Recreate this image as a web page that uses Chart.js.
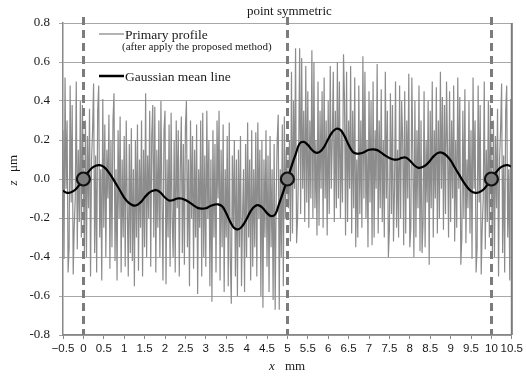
<!DOCTYPE html>
<html>
<head>
<meta charset="utf-8">
<script src="https://cdn.jsdelivr.net/npm/chart.js@4/dist/chart.umd.min.js"></script>
<style>
  html, body { margin: 0; padding: 0; background: #fff; }
  #wrap { width: 526px; height: 376px; }
</style>
</head>
<body>
<div id="wrap"><canvas id="c" width="526" height="376"></canvas></div>
<script>
// Sampling of the primary profile (mm)
const X_START = -0.5;
const X_STEP = 0.025;

// Primary profile z (µm), x = -0.5 … -0.025
const profileLead = [0.25, -0.41, 0.52, -0.05, 0.30, -0.48, -0.35, 0.48, -0.12, 0.38,
  -0.49, -0.25, -0.10, 0.50, -0.36, 0.15, -0.22, 0.40, -0.30, 0.38];

// x = 0 … 5
const profileFirstHalf = [
  0.00, -0.38, 0.30, -0.40, 0.22, -0.15, 0.36, -0.50, 0.10, 0.25,
  0.49, -0.38, 0.12, -0.48, 0.35, 0.48, -0.30, 0.05, -0.52, 0.41,
  -0.25, 0.28, -0.40, 0.15, -0.10, 0.33, -0.46, 0.20, -0.35, 0.30,
  0.44, -0.42, 0.05, -0.52, 0.25, -0.20, 0.32, -0.48, 0.10, -0.30,
  0.22, -0.45, 0.30, -0.15, -0.50, 0.18, -0.38, 0.26, -0.42, 0.05,
  -0.55, 0.20, -0.30, 0.28, -0.47, 0.10, -0.25, 0.30, -0.50, 0.15,
  -0.35, 0.44, -0.40, 0.12, -0.20, 0.35, -0.45, 0.22, 0.38, -0.30,
  0.37, -0.48, 0.15, -0.25, 0.30, -0.40, 0.40, -0.10, -0.52, 0.25,
  0.35, -0.54, 0.10, -0.30, 0.28, -0.45, 0.34, -0.20, -0.40, 0.20,
  -0.48, 0.30, -0.15, 0.25, -0.50, 0.05, 0.32, -0.38, 0.18, -0.44,
  0.26, 0.40, -0.35, 0.10, -0.55, 0.30, -0.20, 0.22, -0.46, 0.15,
  -0.30, 0.28, -0.59, 0.05, -0.25, 0.30, -0.50, 0.34, -0.40, 0.12,
  -0.45, 0.35, -0.20, 0.20, -0.55, 0.10, -0.63, 0.25, -0.30, 0.18,
  -0.48, 0.30, -0.10, 0.35, -0.52, 0.15, -0.35, 0.28, -0.58, 0.05,
  -0.30, 0.22, -0.55, 0.29, -0.40, -0.64, 0.12, -0.25, 0.20, -0.50,
  0.10, -0.60, 0.15, -0.35, 0.22, -0.55, -0.20, 0.05, -0.58, 0.18,
  -0.40, 0.29, -0.30, 0.10, -0.52, 0.25, -0.45, 0.05, -0.35, 0.24,
  -0.50, 0.29, -0.20, 0.15, -0.60, 0.20, -0.66, 0.10, -0.30, 0.25,
  -0.45, 0.12, -0.58, 0.22, -0.35, 0.05, -0.62, 0.18, -0.67, -0.10,
  0.20, 0.33, -0.67, 0.05, -0.40, 0.28, -0.55, 0.32, -0.20, 0.15,
  0.00];

// x = 5.025 … 10
const profileSecondHalf = [
  -0.15, 0.20, -0.32, 0.55, -0.28, 0.40, -0.05, 0.67, -0.33, -0.20,
  0.10, 0.67, -0.18, 0.62, -0.05, 0.35, -0.22, 0.58, -0.12, 0.45,
  -0.25, 0.30, -0.10, 0.66, -0.20, 0.60, -0.15, 0.20, -0.29, 0.50,
  -0.24, 0.35, -0.05, 0.45, -0.25, 0.52, -0.10, 0.30, -0.29, 0.40,
  -0.18, 0.58, -0.05, 0.20, 0.55, -0.22, 0.35, -0.15, 0.60, -0.10,
  0.50, -0.20, 0.25, -0.12, 0.64, 0.40, -0.29, 0.55, -0.22, 0.30,
  -0.05, 0.58, -0.28, 0.35, -0.15, 0.52, -0.35, 0.10, -0.30, 0.48,
  -0.18, 0.30, -0.25, 0.63, -0.10, 0.55, -0.20, 0.20, -0.35, 0.45,
  -0.12, 0.40, -0.34, 0.50, -0.30, 0.25, -0.05, 0.59, -0.28, 0.30,
  -0.15, 0.46, -0.22, 0.20, -0.30, 0.55, -0.10, 0.35, -0.40, -0.26,
  0.44, -0.18, 0.38, -0.32, -0.05, 0.50, -0.25, 0.15, -0.30, 0.48,
  -0.20, 0.40, 0.20, -0.34, 0.45, -0.28, 0.30, -0.10, 0.54, -0.35,
  -0.25, 0.52, 0.10, -0.40, 0.40, -0.30, 0.25, -0.15, 0.48, -0.37,
  0.30, -0.38, -0.22, 0.45, -0.35, 0.20, -0.12, 0.40, -0.44, 0.35,
  -0.15, 0.50, -0.30, 0.25, -0.10, 0.47, -0.28, 0.30, -0.20, 0.55,
  -0.05, 0.42, -0.26, 0.38, -0.18, 0.50, 0.15, -0.30, 0.45, -0.22,
  0.30, -0.10, 0.48, -0.32, 0.20, -0.25, 0.52, -0.05, 0.42, -0.44,
  -0.30, 0.35, -0.20, 0.46, -0.33, 0.10, -0.15, 0.40, -0.28, 0.25,
  -0.41, 0.52, -0.05, 0.30, -0.48, -0.35, 0.48, -0.12, 0.38, -0.49,
  -0.25, -0.10, 0.50, -0.36, 0.15, -0.22, 0.40, -0.30, 0.38, 0.00];

// x = 10.025 … 10.5
const profileTail = [-0.38, 0.30, -0.40, 0.22, -0.15, 0.36, -0.50, 0.10, 0.25, 0.49,
  -0.38, 0.12, -0.48, 0.35, 0.48, -0.30, 0.05, -0.52, 0.41, -0.25];

// Gaussian mean line z (µm), x = -0.5 … 10.5 every 0.1 mm
const MEAN_STEP = 0.1;
const meanLine = [
  -0.060, -0.071, -0.068, -0.055, -0.030,
  0.000, 0.030, 0.055, 0.068, 0.071, 0.062, 0.040, 0.010, -0.025, -0.060,
  -0.095, -0.120, -0.134, -0.135, -0.120, -0.095, -0.072, -0.060, -0.058, -0.072,
  -0.095, -0.110, -0.108, -0.100, -0.100, -0.108, -0.120, -0.135, -0.148, -0.152,
  -0.150, -0.140, -0.132, -0.130, -0.140, -0.175, -0.220, -0.252, -0.258, -0.240,
  -0.205, -0.165, -0.140, -0.135, -0.150, -0.175, -0.190, -0.182, -0.125, -0.065,
  0.000, 0.065, 0.125, 0.182, 0.190, 0.175, 0.150, 0.135, 0.140, 0.165,
  0.205, 0.240, 0.258, 0.252, 0.220, 0.175, 0.140, 0.130, 0.132, 0.140,
  0.150, 0.152, 0.148, 0.135, 0.120, 0.108, 0.100, 0.100, 0.108, 0.110,
  0.095, 0.072, 0.058, 0.060, 0.072, 0.095, 0.120, 0.135, 0.134, 0.120,
  0.095, 0.060, 0.025, -0.010, -0.040, -0.062, -0.071, -0.068, -0.055, -0.030,
  0.000, 0.030, 0.055, 0.068, 0.071, 0.062];

// Symmetry points and the dashed markers through them
const symmetryX = [0, 5, 10];
const symmetryZ = [0, 0, 0];

// Axes
const xRange = [-0.5, 10.5];
const yRange = [-0.8, 0.8];
const titleText = 'point symmetric';
const legendLabels = ['Primary profile', '(after apply the proposed method)', 'Gaussian mean line'];

const profileZ = [].concat(profileLead, profileFirstHalf, profileSecondHalf, profileTail);
const profilePoints = profileZ.map((z, i) => ({ x: +(X_START + i * X_STEP).toFixed(3), y: z }));
const meanPoints = meanLine.map((z, i) => ({ x: +(X_START + i * MEAN_STEP).toFixed(2), y: z }));
const symPoints = symmetryX.map((x, i) => ({ x: x, y: symmetryZ[i] }));

const SERIF = '"Liberation Serif", "Times New Roman", serif';

const decorations = {
  id: 'decorations',
  afterDatasetDraw(chart, args) {
    if (args.index !== 0) return;
    const { ctx, chartArea } = chart;
    const xs = chart.scales.x;
    ctx.save();
    ctx.strokeStyle = '#7c7c7c';
    ctx.lineWidth = 3;
    ctx.setLineDash([8, 5]);
    symmetryX.forEach(v => {
      const px = Math.round(xs.getPixelForValue(v)) + 0.5;
      ctx.beginPath();
      ctx.moveTo(px, chartArea.top - 6);
      ctx.lineTo(px, chartArea.bottom);
      ctx.stroke();
    });
    ctx.restore();
  },
  afterDraw(chart) {
    const { ctx, chartArea } = chart;
    const xs = chart.scales.x;
    ctx.save();
    // right frame line
    ctx.strokeStyle = '#7a7a7a';
    ctx.lineWidth = 2;
    const rx = xs.getPixelForValue(xRange[1]);
    ctx.beginPath();
    ctx.moveTo(rx, chartArea.top);
    ctx.lineTo(rx, chartArea.bottom);
    ctx.stroke();

    ctx.fillStyle = '#1a1a1a';
    ctx.textBaseline = 'alphabetic';

    // annotation above the centre line
    ctx.font = '13px ' + SERIF;
    ctx.textAlign = 'center';
    ctx.fillText(titleText, xs.getPixelForValue(5) + 2, 15);

    // legend
    ctx.textAlign = 'left';
    ctx.strokeStyle = '#8a8a8a';
    ctx.lineWidth = 1.3;
    ctx.beginPath(); ctx.moveTo(99, 34); ctx.lineTo(124, 34); ctx.stroke();
    ctx.font = '13.5px ' + SERIF;
    ctx.fillText(legendLabels[0], 125, 38.5);
    ctx.font = '11px ' + SERIF;
    ctx.fillText(legendLabels[1], 122, 50);
    ctx.strokeStyle = '#000';
    ctx.lineWidth = 2.5;
    ctx.beginPath(); ctx.moveTo(99, 76); ctx.lineTo(124, 76); ctx.stroke();
    ctx.font = '13.5px ' + SERIF;
    ctx.fillText(legendLabels[2], 125, 80.5);

    // x axis title
    ctx.font = 'italic 13px ' + SERIF;
    ctx.textAlign = 'center';
    ctx.fillText('x', 272, 370);
    ctx.font = '13px ' + SERIF;
    ctx.textAlign = 'left';
    ctx.fillText('mm', 285, 370);

    // y axis title (rotated)
    ctx.translate(17, 175);
    ctx.rotate(-Math.PI / 2);
    ctx.font = 'italic 13px ' + SERIF;
    ctx.textAlign = 'center';
    ctx.fillText('z', -8, 0);
    ctx.font = '13px ' + SERIF;
    ctx.textAlign = 'left';
    ctx.fillText('\u03bcm', 3, 0);
    ctx.restore();
  }
};

new Chart(document.getElementById('c'), {
  type: 'scatter',
  data: {
    datasets: [
      {
        data: profilePoints,
        showLine: true,
        borderColor: '#8c8c8c',
        borderWidth: 1.2,
        pointRadius: 0,
        tension: 0,
        order: 3
      },
      {
        data: meanPoints,
        showLine: true,
        borderColor: '#000',
        borderWidth: 2.2,
        pointRadius: 0,
        tension: 0.4,
        order: 2
      },
      {
        data: symPoints,
        showLine: false,
        backgroundColor: '#7d7d7d',
        borderColor: '#111',
        pointRadius: 6.5,
        pointBackgroundColor: '#7d7d7d',
        pointBorderColor: '#111',
        pointBorderWidth: 2.2,
        order: 1
      }
    ]
  },
  options: {
    responsive: false,
    animation: false,
    events: [],
    layout: { padding: { left: 0, right: 12, top: 23, bottom: 0 } },
    plugins: { legend: { display: false }, tooltip: { enabled: false }, title: { display: false } },
    scales: {
      x: {
        type: 'linear',
        min: xRange[0],
        max: xRange[1],
        afterFit(s) { s.height = 41; },
        grid: { drawOnChartArea: false, drawTicks: true, tickLength: 4, color: '#888' },
        border: { color: '#888', width: 1.5 },
        ticks: {
          stepSize: 0.5,
          autoSkip: false,
          maxRotation: 0,
          padding: 3,
          color: '#1a1a1a',
          font: { family: '"Liberation Sans", Arial, sans-serif', size: 11.5 },
          callback(v) {
            const r = Math.round(v * 10) / 10;
            return r < 0 ? '\u2212' + Math.abs(r) : String(r);
          }
        }
      },
      y: {
        type: 'linear',
        min: yRange[0],
        max: yRange[1],
        afterFit(s) { s.width = 63; },
        grid: { color: '#a8a8a8', lineWidth: 1, drawTicks: true, tickLength: 4 },
        border: { color: '#888', width: 1.5 },
        ticks: {
          stepSize: 0.2,
          padding: 9,
          color: '#1a1a1a',
          font: { family: SERIF, size: 13 },
          callback(v) {
            const r = Math.round(v * 10) / 10;
            return (r < 0 ? '-' : '') + Math.abs(r).toFixed(1);
          }
        }
      }
    }
  },
  plugins: [decorations]
});
</script>
</body>
</html>
